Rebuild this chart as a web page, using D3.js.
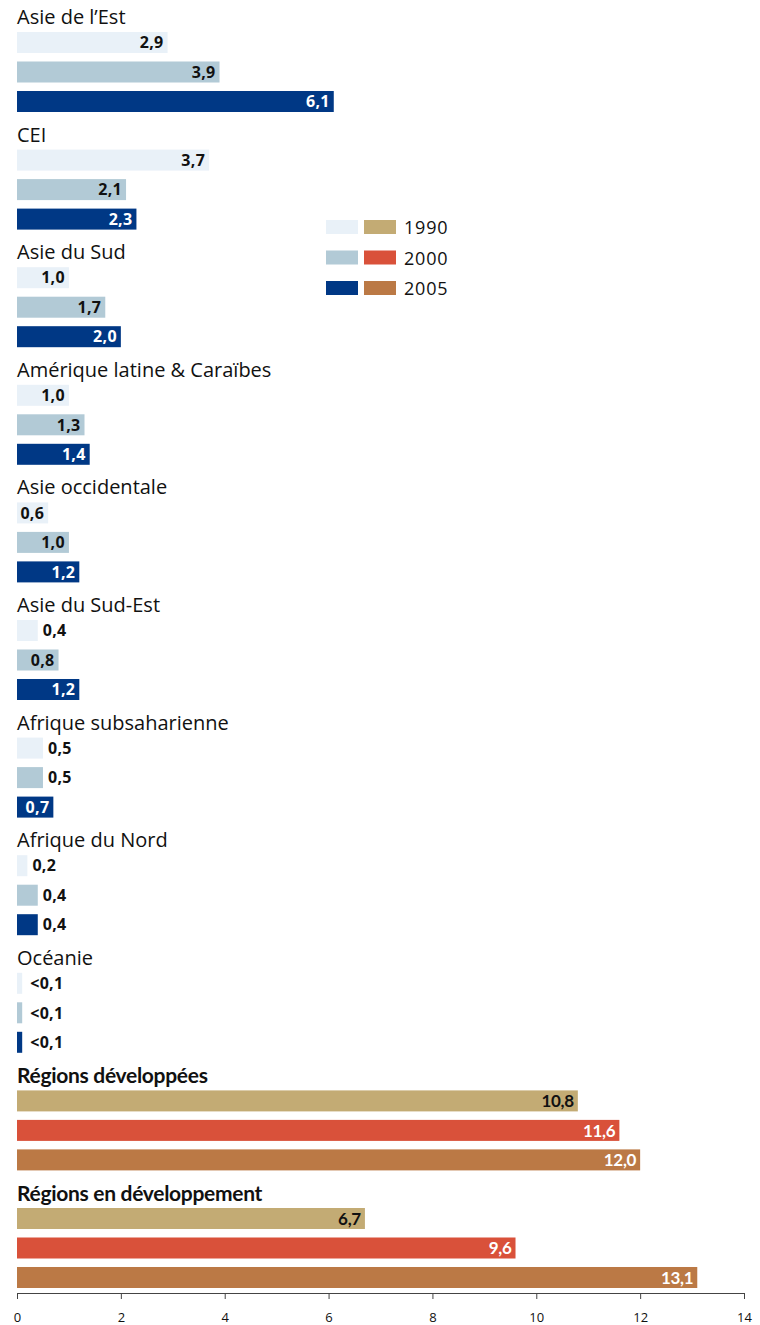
<!DOCTYPE html>
<html lang="fr">
<head>
<meta charset="utf-8">
<script src="https://cdn.jsdelivr.net/npm/d3@7"></script>
<style>
  html, body { margin: 0; padding: 0; background: #fff; }
  svg { display: block; font-family: "Open Sans", Lato, sans-serif; }
</style>
</head>
<body>
<svg id="chart" width="760" height="1325"></svg>
<script>
// Régions, du haut vers le bas
const regions = [
  "Asie de l’Est", "CEI", "Asie du Sud", "Amérique latine & Caraïbes",
  "Asie occidentale", "Asie du Sud-Est", "Afrique subsaharienne",
  "Afrique du Nord", "Océanie", "Régions développées", "Régions en développement"
];
// Agrégats affichés en gras avec leur propre palette
const aggregates = ["Régions développées", "Régions en développement"];
const years = ["1990", "2000", "2005"];

// Valeurs par année (même ordre que regions)
const values1990 = [2.9, 3.7, 1.0, 1.0, 0.6, 0.4, 0.5, 0.2, 0.1, 10.8, 6.7];
const values2000 = [3.9, 2.1, 1.7, 1.3, 1.0, 0.8, 0.5, 0.4, 0.1, 11.6, 9.6];
const values2005 = [6.1, 2.3, 2.0, 1.4, 1.2, 1.2, 0.7, 0.4, 0.1, 12.0, 13.1];
// Régions dont la valeur est inférieure au seuil affiché
const belowThreshold = ["Océanie"];

const xTicks = [0, 2, 4, 6, 8, 10, 12, 14];

const regionColors = { "1990": "#e9f1f8", "2000": "#b2cad6", "2005": "#003885" };
const aggregateColors = { "1990": "#c3ab74", "2000": "#d9513a", "2005": "#bb7945" };
const regionText = { "1990": "#111", "2000": "#111", "2005": "#fff" };
const aggregateText = { "1990": "#111", "2000": "#fff", "2005": "#fff" };

const seriesByYear = { "1990": values1990, "2000": values2000, "2005": values2005 };

const rows = [];
regions.forEach((r, i) => {
  years.forEach(y => rows.push({ region: r, year: y, value: seriesByYear[y][i] }));
});

const svg = d3.select("#chart");

const x = d3.scaleLinear().domain([0, 14]).range([17, 744]);
const groupY = d3.scaleBand().domain(regions).range([32, 32 + 117.6 * regions.length]);
const barY = d3.scaleBand().domain(years).range([0, 80]).paddingInner(0.288).paddingOuter(0);

const fmt = v => d3.format(".1f")(v).replace(".", ",");
const isAgg = r => aggregates.includes(r);

// Titres de groupe
svg.append("g").selectAll("text")
  .data(regions)
  .join("text")
  .attr("x", 17)
  .attr("y", d => groupY(d) - (isAgg(d) ? 7 : 8))
  .attr("fill", "#111")
  .style("font-family", d => isAgg(d) ? "Lato, sans-serif" : "'Open Sans', sans-serif")
  .style("font-size", d => isAgg(d) ? "21px" : "20px")
  .style("font-weight", d => isAgg(d) ? 700 : 400)
  .style("letter-spacing", d => isAgg(d) ? "-0.3px" : "0px")
  .text(d => d);

// Barres
const bars = svg.append("g").selectAll("g")
  .data(rows)
  .join("g")
  .attr("transform", d => `translate(0,${groupY(d.region) + barY(d.year)})`);

bars.append("rect")
  .attr("x", x(0))
  .attr("y", 0)
  .attr("width", d => x(d.value) - x(0))
  .attr("height", barY.bandwidth())
  .attr("fill", d => (isAgg(d.region) ? aggregateColors : regionColors)[d.year]);

// Étiquettes de valeur : dans la barre si elle est assez longue, sinon à droite
bars.append("text")
  .attr("y", barY.bandwidth() / 2)
  .attr("dy", "0.36em")
  .attr("x", d => {
    if (d.value >= 0.6) return x(d.value) - 4;
    return x(d.value) + (belowThreshold.includes(d.region) ? 8 : 5);
  })
  .attr("text-anchor", d => d.value >= 0.6 ? "end" : "start")
  .attr("fill", d => {
    if (d.value < 0.6) return "#111";
    return (isAgg(d.region) ? aggregateText : regionText)[d.year];
  })
  .style("font-family", d => isAgg(d.region) ? "Lato, sans-serif" : "'Open Sans', sans-serif")
  .style("font-size", d => isAgg(d.region) ? "17px" : "16px")
  .style("font-weight", 700)
  .style("letter-spacing", d => isAgg(d.region) ? "-0.3px" : "0.3px")
  .text(d => belowThreshold.includes(d.region) ? "<" + fmt(d.value) : fmt(d.value));

// Légende
const legend = svg.append("g").attr("transform", "translate(326,220)");
const legendRows = legend.selectAll("g")
  .data(years)
  .join("g")
  .attr("transform", (d, i) => `translate(0,${i * 30.5})`);
legendRows.append("rect")
  .attr("width", 32).attr("height", 14)
  .attr("fill", d => regionColors[d]);
legendRows.append("rect")
  .attr("x", 38).attr("width", 32).attr("height", 14)
  .attr("fill", d => aggregateColors[d]);
legendRows.append("text")
  .attr("x", 78).attr("y", 14)
  .attr("fill", "#111")
  .style("font-size", "18px")
  .style("letter-spacing", "0.8px")
  .text(d => d);

// Axe horizontal
const axis = svg.append("g")
  .attr("transform", "translate(0,1293)")
  .call(d3.axisBottom(x).tickValues(xTicks).tickSize(6).tickPadding(14)
    .tickSizeOuter(0).tickFormat(d => d));
axis.select(".domain").attr("stroke", "#444");
axis.selectAll(".tick line").attr("stroke", "#444");
axis.selectAll(".tick text")
  .attr("fill", "#111")
  .style("font-family", "'Open Sans', sans-serif")
  .style("font-size", "13px");
</script>
</body>
</html>
